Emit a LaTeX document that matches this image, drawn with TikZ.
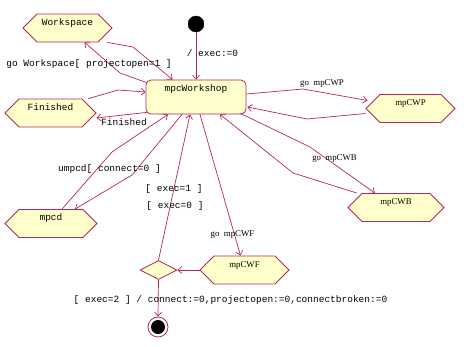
\documentclass[tikz,border=0pt]{standalone}
\usepackage{fontspec}
\setmainfont{Liberation Serif}
\setmonofont{Liberation Mono}
\usetikzlibrary{shapes.misc,shapes.geometric,arrows.meta,calc}
\definecolor{lc}{RGB}{180,40,90}
\definecolor{fc}{RGB}{255,255,204}
\begin{document}
\begin{tikzpicture}[x=1pt,y=-1pt,
  mono/.style={font=\fontsize{9.5pt}{11pt}\selectfont\ttfamily},
  serif/.style={font=\fontsize{8.8pt}{10pt}\selectfont\rmfamily},
  stbox/.style={chamfered rectangle, chamfered rectangle xsep=8pt, chamfered rectangle ysep=10pt,
    draw=lc, fill=fc, line width=0.8pt, inner xsep=0pt, inner ysep=0pt,
    text height=1pt, text depth=7pt, minimum height=28pt, mono},
  mwbox/.style={rectangle, rounded corners=5pt, draw=lc, fill=fc, line width=0.8pt,
    minimum width=100pt, inner xsep=0pt, inner ysep=0pt, text height=11pt, text depth=23pt, mono},
  dia/.style={diamond, draw=lc, fill=fc, line width=0.8pt, minimum width=37pt, minimum height=19pt, inner sep=0pt},
  initst/.style={circle, fill=black, draw=black, minimum size=16pt, inner sep=0pt},
  finst/.style={circle, draw=lc, fill=white, line width=0.8pt, minimum size=20pt, inner sep=0pt,
    path picture={\fill[black] (path picture bounding box.center) circle (7pt);}},
  edge/.style={draw=lc, line width=0.7pt, -{Straight Barb[length=4pt,width=7pt]}},
  lbl/.style={mono, inner sep=0pt},
  slbl/.style={serif, inner sep=0pt}]
\useasboundingbox (0,0) rectangle (466,346);
% nodes
\node[initst] (start) at (196,24) {};
\node[mwbox] (mw) at (196,97) {mpcWorkshop};
\node[stbox, minimum width=89pt] (ws) at (67.5,28) {Workspace};
\node[stbox, minimum width=91pt] (fin) at (50.5,113) {Finished};
\node[stbox, minimum width=92pt] (cd) at (51,223.5) {mpcd};
\node[stbox, serif, minimum width=89pt] (wp) at (410.5,108.5) {mpCWP};
\node[stbox, serif, minimum width=96pt] (wb) at (396,207.5) {mpCWB};
\node[stbox, serif, minimum width=89pt] (wf) at (244.5,270) {mpCWF};
\node[dia] (dc) at (158.5,270) {};
\node[finst] (end) at (158,327) {};
% edges
\draw[edge] (start.south) -- (mw.north);
\draw[edge] ($(ws.south)+(40,0)$) -- (133,47) -- ($(mw.north west)+(27,0)$);
\draw[edge] ($(mw.north west)+(1,3)$) -- (120,73) -- ($(ws.south)+(17,0)$);
\draw[edge] ($(fin.north)+(38,0)$) -- (118,90) -- ($(mw.west)+(0,-5)$);
\draw[edge] ($(mw.south west)+(1,-2)$) -- ($(fin.center)+(46,5)$);
\draw[edge] ($(mw.east)+(0,-3)$) -- (303,89) -- ($(wp.center)+(-43,-8)$);
\draw[edge] ($(wp.center)+(-45,5)$) -- (307,119) -- ($(mw.east)+(1,10)$);
\draw[edge] ($(mw.south east)+(-6,-1)$) -- (310,147) -- ($(wb.north)+(-21,0)$);
\draw[edge] ($(wb.north)+(-39,0)$) -- (293,173) -- ($(mw.south)+(24,0)$);
\draw[edge] ($(mw.south)+(4,0)$) -- ($(wf.north)+(-4,0)$);
\draw[edge] (wf.west) -- (dc.east);
\draw[edge] (dc.north) -- ($(mw.south)+(-6,0)$);
\draw[edge] ($(mw.south)+(-14,0)$) -- (132,175) -- ($(cd.north)+(24,0)$);
\draw[edge] ($(cd.north)+(11,0)$) -- (112,152) -- ($(mw.south)+(-28,0)$);
\draw[edge] (dc.south) -- (end.north);
% labels
\node[lbl] (l1) at (212.5,53) {/ exec:=0};
\node[lbl] (l2) at (89,64) {go Workspace[ projectopen=1 ]};
\node[lbl] (l3) at (124,122) {Finished};
\node[slbl] (l4) at (322,84) {go~~mpCWP};
\node[slbl] (l5) at (334.5,159) {go~~mpCWB};
\node[slbl] (l6) at (232.5,235) {go~~mpCWF};
\node[lbl] (l7) at (109.5,169) {umpcd[ connect=0 ]};
\node[lbl] (l8) at (174,189) {[ exec=1 ]};
\node[lbl] (l9) at (175,206) {[ exec=0 ]};
\node[lbl] (l10) at (230.5,300) {[ exec=2 ] / connect:=0,projectopen:=0,connectbroken:=0};
\end{tikzpicture}
\end{document}
